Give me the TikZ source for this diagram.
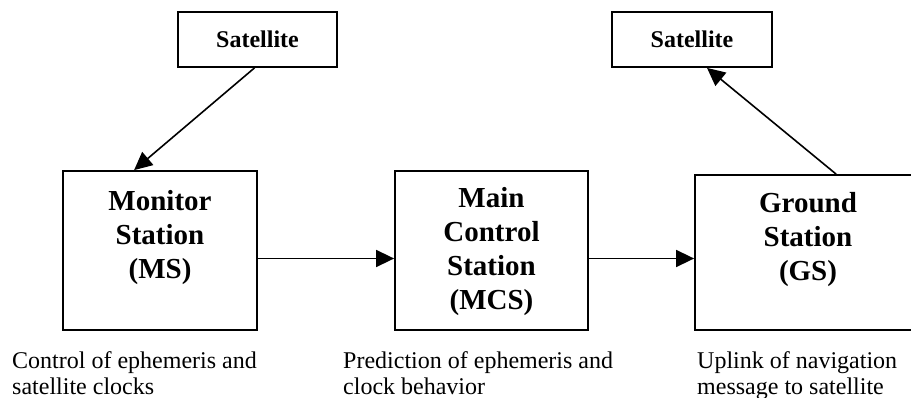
\documentclass[tikz,border=0pt]{standalone}
\usepackage{fontspec}
\setmainfont{Liberation Serif}
\usetikzlibrary{arrows.meta}

\begin{document}
\begin{tikzpicture}[x=1pt,y=-1pt]

      \useasboundingbox (0,0) rectangle (911,398);
      \clip (0,0) rectangle (911,398);

      \begin{scope}[every node/.style={draw,rectangle,line width=1.8pt,inner sep=0pt}]
        \node[minimum width=159pt,minimum height=55pt] (sat1) at (257.5,39.5) {};
        \node[minimum width=160pt,minimum height=55pt] (sat2) at (692,39.5)  {};
        \node[minimum width=194pt,minimum height=159pt] (ms)  at (160,250.5)  {};
        \node[minimum width=193pt,minimum height=159pt] (mcs) at (491.5,250.5) {};
        \node[minimum width=226pt,minimum height=155pt] (gs)  at (808,252.5)  {};
      \end{scope}

      \begin{scope}[every node/.style={inner sep=0pt,align=center,font=\bfseries\fontsize{24}{28}\selectfont}]
        \node (sat1text) at (sat1.center) {Satellite};
        \node (sat2text) at (sat2.center) {Satellite};
      \end{scope}

      \begin{scope}[every node/.style={inner sep=0pt,align=center,anchor=north,font=\bfseries\fontsize{29}{34}\selectfont}]
        \node (mstext)  at ([yshift=-20pt]ms.north)  {Monitor\\Station\\(MS)};
        \node (mcstext) at ([yshift=-17pt]mcs.north) {Main\\Control\\Station\\(MCS)};
        \node (gstext)  at ([yshift=-18pt]gs.north)  {Ground\\Station\\(GS)};
      \end{scope}

      \begin{scope}[every node/.style={inner sep=0pt,align=left,anchor=north west,font=\fontsize{24}{26.5}\selectfont}]
        \node (msnote)  at (12,351)  {Control of ephemeris and\\satellite clocks};
        \node (mcsnote) at (343,351) {Prediction of ephemeris and\\clock behavior};
        \node (gsnote)  at (697,351) {Uplink of navigation\\message to satellite};
      \end{scope}

      \begin{scope}[every edge/.style={draw,line width=1.6pt,-{Triangle[length=18pt,width=17pt]}}]
        \path ([xshift=-3pt]sat1.south) edge ([xshift=72pt]ms.north west);
        \path ([xshift=142pt]gs.north west) edge ([xshift=15pt]sat2.south);
        \path ([yshift=-8pt]ms.east) edge ([yshift=-8pt]mcs.west);
        \path ([yshift=-8pt]mcs.east) edge ([yshift=-6pt]gs.west);
      \end{scope}

    \end{tikzpicture}
\end{document}
